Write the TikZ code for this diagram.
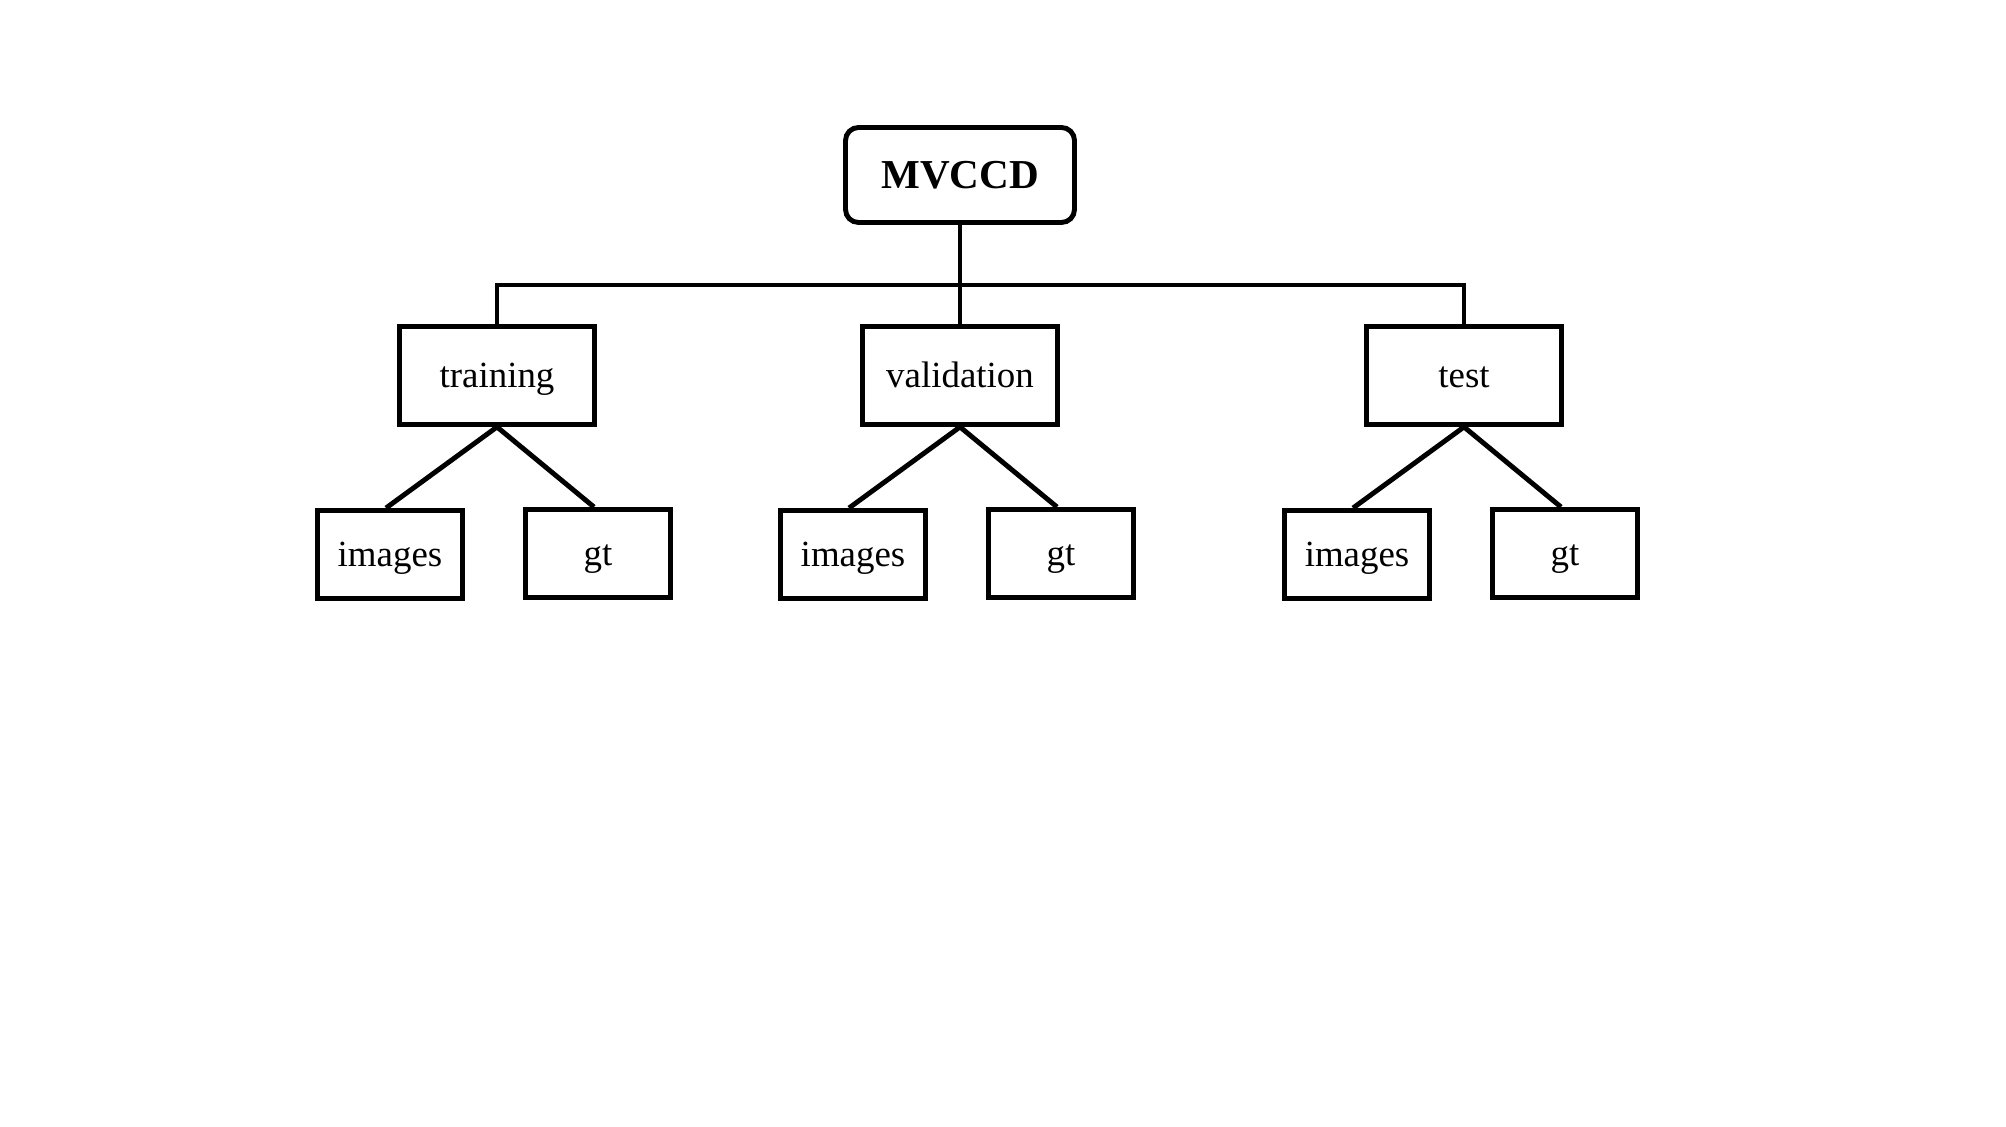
\documentclass[tikz,border=0pt]{standalone}
\usepackage{fontspec}
\setmainfont{Liberation Serif}
\usetikzlibrary{positioning}
\tikzset{
	folder/.style={draw, line width=1.4pt, inner sep=0pt,
		minimum width=1.95cm, minimum height=0.98cm,
		text height=0.32cm, text depth=0.07cm,
		font=\fontsize{10.5}{12}\selectfont},
	leaf/.style={folder, minimum width=1.45cm, minimum height=0.88cm},
	root/.style={folder, rounded corners=0.13cm,
		minimum width=2.29cm, minimum height=0.95cm,
		text height=0.30cm, text depth=0.02cm,
		font=\fontsize{11.7}{14}\selectfont\bfseries},
}
\newcommand{\plotDatasetSplit}[3]
{
	\node[folder](#1) at (#3,-3.755){#2};
	\node[leaf](#1-img) at ([xshift=-1.07cm,yshift=-1.79cm]#1.center){images};
	\node[leaf](#1-gt)  at ([xshift= 1.01cm,yshift=-1.78cm]#1.center){gt};
	\draw[line width=1.4pt](#1.south)-- ([xshift=-0.04cm]#1-img.north);
	\draw[line width=1.4pt](#1.south)-- ([xshift=-0.04cm]#1-gt.north);
}
\begin{document}
\begin{tikzpicture}
\useasboundingbox (0,0) rectangle (20.06,-11.27);

\node[root](mvccd) at (9.60,-1.75){MVCCD};
\plotDatasetSplit{training}{training}{4.97}
\plotDatasetSplit{validation}{validation}{9.60}
\plotDatasetSplit{test}{test}{14.64}

\coordinate (bus) at (9.60,-2.85);
\draw[line width=1.4pt](mvccd.south)-- (validation.north);
\draw[line width=1.4pt](training.north)-- (training.north |- bus)-- (test.north |- bus)-- (test.north);
\end{tikzpicture}
\end{document}
